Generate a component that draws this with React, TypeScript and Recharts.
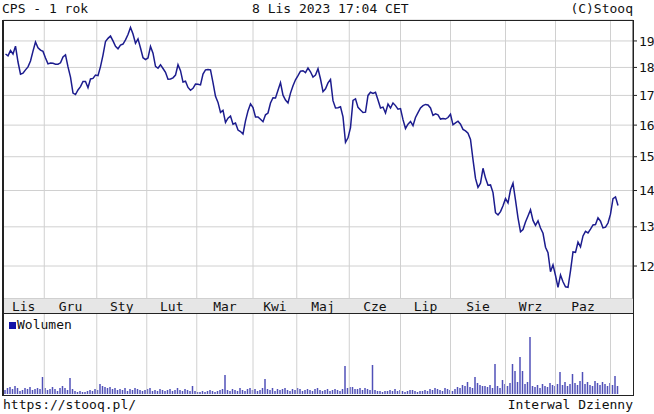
import React from "react";
import {
  Bar,
  BarChart,
  CartesianGrid,
  Line,
  LineChart,
  ReferenceLine,
  XAxis,
  YAxis,
} from "recharts";

// CPS daily close, 8 Nov 2022 – 8 Nov 2023 (one value per trading day)
const prices = [
  18.5, 18.43, 18.63, 18.5, 18.8, 18.2, 17.75, 17.79, 17.91, 18.02,
  18.24, 18.61, 18.96, 18.74, 18.65, 18.6, 18.35, 18.13, 18.16, 18.15,
  18.12, 18.12, 18.17, 18.39, 18.47, 18.02, 17.65, 17.08, 17.03, 17.19,
  17.31, 17.49, 17.49, 17.27, 17.58, 17.6, 17.72, 17.7, 18.03, 18.46,
  18.98, 19.1, 19.19, 19.0, 18.79, 18.7, 18.84, 18.88, 19.04, 19.25,
  19.53, 19.27, 18.91, 19.08, 18.73, 18.36, 18.29, 18.35, 18.79, 18.53,
  18.04, 17.97, 18.1, 17.96, 17.82, 17.57, 17.58, 17.62, 17.72, 18.1,
  17.88, 17.47, 17.5, 17.28, 17.18, 17.25, 17.4, 17.39, 17.37, 17.76,
  17.91, 17.92, 17.91, 17.45, 16.97, 16.76, 16.42, 16.49, 16.09, 16.23,
  16.3, 16.03, 16.07, 15.84, 15.79, 15.71, 16.14, 16.47, 16.71, 16.58,
  16.27, 16.27, 16.19, 16.11, 16.34, 16.4, 16.74, 16.92, 16.91, 17.18,
  17.45, 17.01, 16.84, 16.74, 17.08, 17.34, 17.55, 17.7, 17.86, 17.88,
  17.81, 17.98, 17.84, 17.65, 17.72, 17.95, 17.58, 17.13, 17.23, 17.44,
  17.56, 16.82, 16.57, 16.58, 16.61, 16.27, 15.45, 15.59, 15.92, 16.83,
  16.88, 16.59, 16.5, 16.42, 16.43, 17.0, 17.11, 17.07, 17.11, 16.84,
  16.57, 16.6, 16.4, 16.7, 16.57, 16.74, 16.65, 16.53, 16.55, 16.18,
  15.89, 16.03, 16.12, 15.98, 16.25, 16.41, 16.57, 16.65, 16.69, 16.67,
  16.57, 16.32, 16.37, 16.34, 16.2, 16.22, 16.2, 16.25, 16.36, 16.01,
  16.07, 16.13, 16.03, 15.86, 15.81, 15.74, 15.54, 14.91, 14.35, 14.09,
  14.21, 14.65, 14.36, 14.15, 14.16, 13.94, 13.38, 13.32, 13.41, 13.57,
  13.77, 13.65, 14.02, 14.21, 13.73, 13.24, 12.87, 12.93, 13.13, 13.29,
  13.46, 13.17, 13.04, 13.16, 12.97, 12.83, 12.47, 12.33, 11.86, 12.03,
  11.77, 11.49, 11.78, 11.62, 11.5, 11.49, 11.88, 12.35, 12.34, 12.6,
  12.48, 12.76, 12.88, 12.84, 12.94, 13.05, 13.06, 13.24, 13.15, 12.97,
  12.99, 13.1, 13.34, 13.77, 13.82, 13.58,
];

// daily volume, arbitrary units
const volumes = [
  4, 6, 7, 5, 8, 6, 3, 4, 6, 5, 7, 4, 5, 6, 5, 17,
  6, 4, 5, 7, 5, 3, 6, 8, 6, 4, 16,
  5, 3, 2, 3, 2, 2, 3, 4, 3, 5, 4, 10,
  8, 7, 6, 7, 5, 6, 4,
  5, 4, 6, 3, 5, 4, 6, 5, 4, 3, 4, 5, 6, 3, 4, 3, 5, 4, 3, 4, 5, 3, 4, 6, 4, 3, 5, 4, 3, 8,
  3, 2, 2, 3, 2, 3, 4, 3, 2, 3, 4, 5, 19,
  4, 3, 5, 4, 3, 6, 4, 3, 5, 6, 4, 5, 3, 4, 6, 15,
  5, 4, 6, 3, 5, 4, 5, 6, 4, 3, 5, 4, 6, 5, 3, 4, 5, 4, 3, 5, 6, 4, 3, 4, 5, 3, 4, 5, 4, 3, 5, 28,
  6, 7, 7, 5, 5, 6, 4, 6, 5, 4, 29,
  4, 3, 3, 2, 3, 3, 4, 3, 5, 3, 4, 3, 2, 3, 4, 4, 3, 2, 3, 3, 4, 3, 5, 4, 6, 5, 4, 3, 6, 5, 4, 3,
  5, 7, 6, 9, 8, 12, 7, 6, 17,
  11, 9, 8, 8, 7, 9, 6, 30, 8, 6, 14, 10, 8, 11,
  30, 23, 12, 37, 23, 10, 12, 57,
  8, 7, 9, 6, 10, 8, 7, 11, 9, 8, 10, 22,
  9, 12, 8, 10, 20, 11, 9, 13, 22,
  10, 12, 9, 8, 13, 11, 9, 12, 10, 8, 11, 9, 18, 8,
];

const monthLabels = ["Lis", "Gru", "Sty", "Lut", "Mar", "Kwi", "Maj", "Cze", "Lip", "Sie", "Wrz", "Paz"];
// trading-day position where each new month begins (Dec ... Nov)
const monthStarts = [15.5, 36.5, 56.5, 76.5, 99, 116.5, 137.5, 158, 178, 200, 220, 242];
const priceTicks = [12, 13, 14, 15, 16, 17, 18, 19];

const X_DOMAIN: [number, number] = [-1, 251];
const Y_DOMAIN: [number, number] = [11.23, 19.83];

const FONT = "'DejaVu Sans Mono', 'Liberation Mono', monospace";
const GRID = "#d0d0d0";
const DARK = "#222";

const data = prices.map((price, i) => ({ i, price, vol: volumes[i] }));

const bounds = [X_DOMAIN[0], ...monthStarts];
const monthCenters = monthLabels.map((_, k) => (bounds[k] + bounds[k + 1]) / 2);

const text = (style: React.CSSProperties): React.CSSProperties => ({
  position: "absolute",
  fontFamily: FONT,
  fontSize: 13,
  lineHeight: "16px",
  color: "#111",
  whiteSpace: "nowrap",
  ...style,
});

export default function App() {
  return (
    <div style={{ position: "absolute", left: 0, top: 0, width: 654, height: 414, background: "#fff", overflow: "hidden" }}>
      <div style={text({ left: 2, top: 1 })}>CPS - 1 rok</div>
      <div style={text({ left: 252, top: 1 })}>8 Lis 2023 17:04 CET</div>
      <div style={text({ right: 21, top: 1 })}>(C)Stooq</div>

      {/* month band between the two panels */}
      <div
        style={{
          position: "absolute",
          left: 3,
          top: 298,
          width: 630,
          height: 16,
          boxSizing: "border-box",
          background: "#e6e6e6",
          borderTop: `1px solid ${DARK}`,
          borderBottom: `1px solid ${DARK}`,
        }}
      />

      <div style={{ position: "absolute", left: 0, top: 0 }}>
        <LineChart width={654} height={314} data={data} margin={{ top: 20, right: 0, left: 3, bottom: 0 }}>
          <CartesianGrid vertical={false} stroke={GRID} />
          {monthStarts.map((m) => (
            <ReferenceLine key={m} x={m} stroke={GRID} />
          ))}
          <XAxis
            dataKey="i"
            type="number"
            domain={X_DOMAIN}
            allowDataOverflow
            ticks={monthCenters}
            interval={0}
            tickFormatter={(_v: number, idx: number) => monthLabels[idx]}
            tickLine={false}
            axisLine={false}
            tickSize={0}
            tickMargin={3}
            height={15.5}
            tick={{ fontSize: 13, fill: "#111", fontFamily: FONT }}
          />
          <YAxis
            orientation="right"
            scale="log"
            domain={Y_DOMAIN}
            allowDataOverflow
            ticks={priceTicks}
            interval={0}
            width={21}
            tickSize={4}
            tickMargin={2}
            axisLine={{ stroke: DARK }}
            tickLine={{ stroke: DARK }}
            tick={{ fontSize: 13, fill: "#111", fontFamily: FONT }}
          />
          <Line
            type="linear"
            dataKey="price"
            stroke="#1c1c8e"
            strokeWidth={1.5}
            dot={false}
            isAnimationActive={false}
          />
        </LineChart>
      </div>

      <div style={{ position: "absolute", left: 0, top: 314 }}>
        <BarChart width={654} height={80} data={data} margin={{ top: 0, right: 21, left: 3, bottom: 0 }}>
          {monthStarts.map((m) => (
            <ReferenceLine key={m} x={m} stroke={GRID} />
          ))}
          <XAxis dataKey="i" type="number" domain={X_DOMAIN} allowDataOverflow hide />
          <YAxis domain={[0, 80]} allowDataOverflow hide />
          <Bar dataKey="vol" fill="#5050b8" barSize={1.5} isAnimationActive={false} />
        </BarChart>
      </div>

      <div style={{ position: "absolute", left: 9, top: 322, width: 7, height: 7, background: "#1414a8" }} />
      <div style={text({ left: 17, top: 317 })}>Wolumen</div>

      {/* frame round both panels */}
      <div
        style={{
          position: "absolute",
          left: 2,
          top: 20,
          width: 632,
          height: 376,
          boxSizing: "border-box",
          border: `1px solid ${DARK}`,
          borderLeftWidth: 2,
          pointerEvents: "none",
        }}
      />

      <div style={text({ left: 3, top: 397 })}>https://stooq.pl/</div>
      <div style={text({ right: 21, top: 397 })}>Interwal Dzienny</div>
    </div>
  );
}
